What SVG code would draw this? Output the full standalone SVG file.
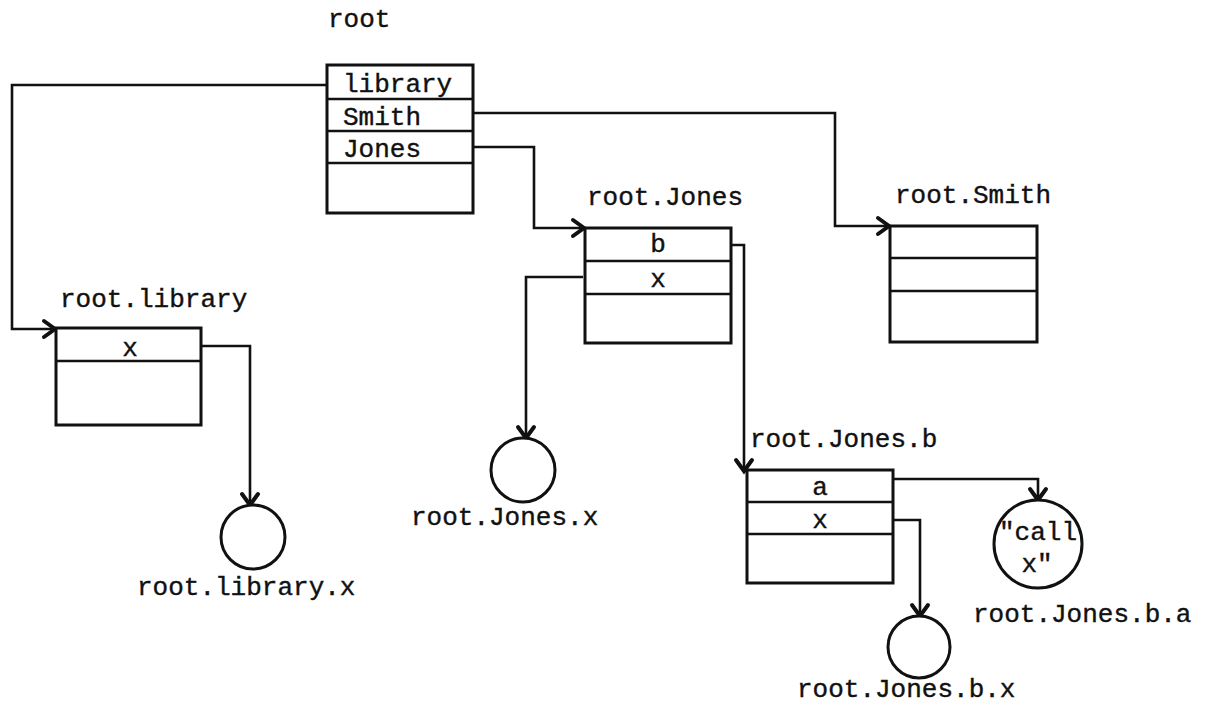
<svg xmlns="http://www.w3.org/2000/svg" width="1210" height="707" viewBox="0 0 1210 707">
<defs>
<style>
.t{font-family:"Liberation Mono","DejaVu Sans Mono",monospace;font-size:26px;fill:#111;stroke:#111;stroke-width:0.4}
.c{text-anchor:middle}
.box{fill:#fff;stroke:#111;stroke-width:3}
.div{stroke:#111;stroke-width:2.5}
.circ{fill:#fff;stroke:#111;stroke-width:3}
.conn{fill:none;stroke:#111;stroke-width:2.6;stroke-linejoin:miter}
</style>
<marker id="arr" markerUnits="userSpaceOnUse" markerWidth="24" markerHeight="24" refX="0" refY="0" viewBox="-16 -12 18 24" orient="auto" overflow="visible">
<path d="M-11,-8 L0,0 L-11,8" fill="none" stroke="#111" stroke-width="4" stroke-linecap="round"/>
</marker>
</defs>
<rect width="1210" height="707" fill="#fff"/>

<g id="connectors">
<path class="conn" d="M327,85 L12,85 L12,329 L55,329" marker-end="url(#arr)"/>
<path class="conn" d="M473,113 L835,113 L835,226 L889,226" marker-end="url(#arr)"/>
<path class="conn" d="M473,147 L534,147 L534,228 L584,228" marker-end="url(#arr)"/>
<path class="conn" d="M731,245 L744,245 L744,471" marker-end="url(#arr)"/>
<path class="conn" d="M583,277 L526,277 L526,438" marker-end="url(#arr)"/>
<path class="conn" d="M201,346 L250,346 L250,505" marker-end="url(#arr)"/>
<path class="conn" d="M893,479 L1038,479 L1038,500" marker-end="url(#arr)"/>
<path class="conn" d="M893,520 L920,520 L920,616" marker-end="url(#arr)"/>
</g>

<g id="root">
<text class="t" x="328" y="27">root</text>
<rect class="box" x="327" y="65" width="146" height="148"/>
<line class="div" x1="327" y1="99" x2="473" y2="99"/>
<line class="div" x1="327" y1="131" x2="473" y2="131"/>
<line class="div" x1="327" y1="163" x2="473" y2="163"/>
<text class="t" x="343" y="92">library</text>
<text class="t" x="343" y="125">Smith</text>
<text class="t" x="343" y="157">Jones</text>
</g>

<g id="root.Jones">
<text class="t" x="587" y="205">root.Jones</text>
<rect class="box" x="585" y="228" width="146" height="115"/>
<line class="div" x1="585" y1="261" x2="731" y2="261"/>
<line class="div" x1="585" y1="294" x2="731" y2="294"/>
<text class="t c" x="658" y="252">b</text>
<text class="t c" x="658" y="287">x</text>
</g>

<g id="root.Smith">
<text class="t" x="895" y="203">root.Smith</text>
<rect class="box" x="890" y="226" width="147" height="116"/>
<line class="div" x1="890" y1="258" x2="1037" y2="258"/>
<line class="div" x1="890" y1="291" x2="1037" y2="291"/>
</g>

<g id="root.library">
<text class="t" x="60" y="307">root.library</text>
<rect class="box" x="56" y="328" width="145" height="97"/>
<line class="div" x1="56" y1="361" x2="201" y2="361"/>
<text class="t c" x="130" y="356">x</text>
</g>

<g id="root.library.x">
<circle class="circ" cx="253" cy="537" r="32"/>
<text class="t" x="137" y="595">root.library.x</text>
</g>

<g id="root.Jones.x">
<circle class="circ" cx="523" cy="470" r="32"/>
<text class="t" x="411" y="525">root.Jones.x</text>
</g>

<g id="root.Jones.b">
<text class="t" x="750" y="447">root.Jones.b</text>
<rect class="box" x="747" y="470" width="146" height="113"/>
<line class="div" x1="747" y1="502" x2="893" y2="502"/>
<line class="div" x1="747" y1="534" x2="893" y2="534"/>
<text class="t c" x="820" y="495">a</text>
<text class="t c" x="820" y="528">x</text>
</g>

<g id="root.Jones.b.a">
<circle class="circ" cx="1038" cy="544" r="44"/>
<text class="t c" x="1038" y="540">"call</text>
<text class="t c" x="1037" y="572">x"</text>
<text class="t" x="973" y="622">root.Jones.b.a</text>
</g>

<g id="root.Jones.b.x">
<circle class="circ" cx="919" cy="647" r="31"/>
<text class="t" x="797" y="697">root.Jones.b.x</text>
</g>
</svg>
